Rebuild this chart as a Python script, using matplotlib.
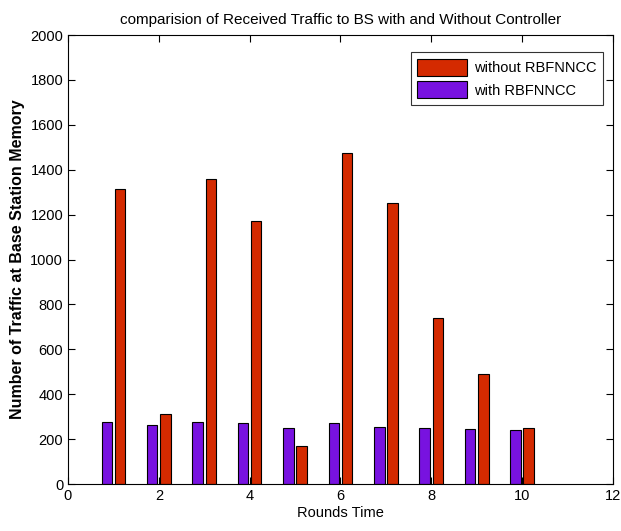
import matplotlib.pyplot as plt
import numpy as np

# Valors llegits del gràfic
rounds = np.arange(1, 11)
without_ctrl = [1315, 310, 1360, 1170, 170, 1475, 1250, 740, 490, 250]
with_ctrl = [275, 265, 275, 270, 250, 270, 255, 250, 245, 240]

plt.rcParams['font.family'] = ['Liberation Sans Narrow', 'Liberation Sans', 'DejaVu Sans']

fig = plt.figure(figsize=(6.21, 5.31), dpi=100)
ax = fig.add_axes([0.1095, 0.0885, 0.8775, 0.8455])

w = 0.23
ax.bar(rounds + 0.145, without_ctrl, width=w, color='#d42a00', edgecolor='black',
       linewidth=0.8, label='without RBFNNCC')
ax.bar(rounds - 0.145, with_ctrl, width=w, color='#7812e0', edgecolor='black',
       linewidth=0.8, label='with RBFNNCC')

ax.set_xlim(0, 12)
ax.set_ylim(0, 2000)
ax.set_xticks(np.arange(0, 13, 2))
ax.set_yticks(np.arange(0, 2001, 200))
ax.tick_params(direction='in', top=True, right=True, labelsize=10.5, length=5)

ax.set_title('comparision of Received Traffic to BS with and Without Controller',
             fontsize=11, pad=8)
ax.set_xlabel('Rounds Time', fontsize=10.5, labelpad=2)
ax.set_ylabel('Number of Traffic at Base Station Memory', fontsize=11.5, fontweight='bold')

leg = ax.legend(loc='upper right', bbox_to_anchor=(0.982, 0.962), borderaxespad=0,
                fontsize=10.5, fancybox=False, edgecolor='black',
                handlelength=3.4, handleheight=1.4, handletextpad=0.5, labelspacing=0.4,
                borderpad=0.45)
leg.get_frame().set_linewidth(0.8)

plt.savefig('out.png', dpi=100)
